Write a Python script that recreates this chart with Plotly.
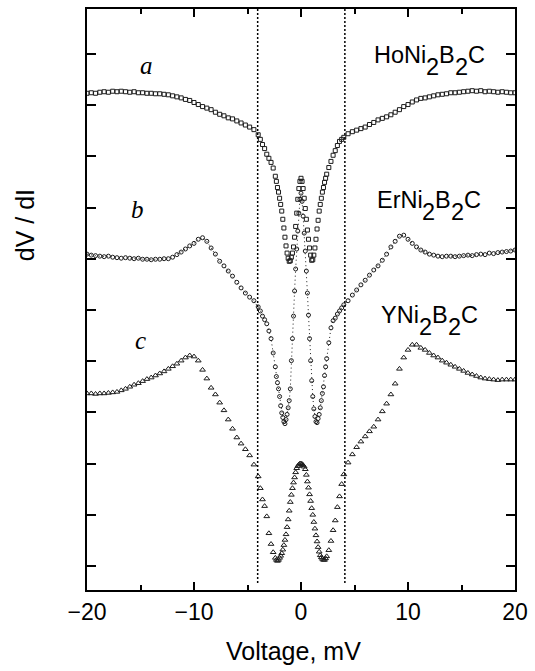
import numpy as np
import plotly.graph_objects as go


def grid(start, stop, step):
    return np.round(np.arange(start, stop + step / 2, step), 2)


# Bias voltage sampling (mV): coarse in the wings, fine through the gap region
volts = np.concatenate([grid(-20, -4, 0.4), grid(-3.8, -2.4, 0.2), grid(-2.3, 2.3, 0.1),
                        grid(2.4, 3.8, 0.2), grid(4, 20, 0.4)])

# dV/dI, arbitrary units (curves offset vertically)
dvdi_ho = [
    10.23, 10.24, 10.23, 10.25, 10.26, 10.25, 10.27, 10.26, 10.27, 10.26, 10.25, 10.26, 10.24, 10.24,
    10.23, 10.23, 10.22, 10.22, 10.21, 10.20, 10.18, 10.16, 10.14, 10.11, 10.09, 10.05, 10.01, 9.97,
    9.94, 9.91, 9.86, 9.82, 9.79, 9.75, 9.73, 9.69, 9.65, 9.61, 9.57, 9.52, 9.42,
    9.33, 9.23, 9.15, 9.04, 8.96, 8.88, 8.77, 8.61,
    8.51, 8.39, 8.30, 8.18, 8.06, 7.93, 7.77, 7.60, 7.42, 7.25, 7.11, 7.01, 6.95, 6.96, 7.03, 7.11,
    7.23, 7.42, 7.63, 7.89, 8.16, 8.37, 8.51, 8.57, 8.51, 8.37, 8.18, 7.98, 7.77, 7.56, 7.38, 7.21,
    7.07, 6.97, 6.98, 7.07, 7.21, 7.38, 7.58, 7.75, 7.93, 8.06, 8.18, 8.30, 8.39, 8.49, 8.57,
    8.65, 8.78, 8.90, 9.02, 9.11, 9.21, 9.29, 9.33,
    9.37, 9.44, 9.48, 9.51, 9.54, 9.57, 9.62, 9.66, 9.71, 9.74, 9.77, 9.81, 9.86, 9.91, 9.97, 10.01,
    10.06, 10.10, 10.13, 10.14, 10.16, 10.18, 10.20, 10.21, 10.22, 10.24, 10.24, 10.25, 10.26, 10.27,
    10.28, 10.27, 10.28, 10.26, 10.27, 10.26, 10.25, 10.26, 10.25, 10.24, 10.24,
]
dvdi_er = [
    7.09, 7.07, 7.06, 7.05, 7.04, 7.05, 7.03, 7.02, 7.01, 7.02, 7.01, 7.00, 7.01, 6.99, 6.99, 6.98,
    6.99, 6.99, 7.00, 7.00, 7.03, 7.08, 7.13, 7.19, 7.25, 7.30, 7.38, 7.41, 7.34, 7.21, 7.09, 6.95,
    6.86, 6.76, 6.66, 6.54, 6.43, 6.33, 6.25, 6.18, 6.06,
    5.98, 5.88, 5.81, 5.73, 5.59, 5.44, 5.16, 4.89,
    4.70, 4.58, 4.46, 4.31, 4.13, 3.99, 3.90, 3.82, 3.78, 3.86, 3.96, 4.09, 4.23, 4.46, 5.01, 5.44,
    5.88, 6.37, 6.80, 7.19, 7.54, 7.89, 8.16, 8.28, 8.12, 7.83, 7.50, 7.15, 6.76, 6.33, 5.90, 5.44,
    5.01, 4.62, 4.31, 4.07, 3.92, 3.82, 3.80, 3.88, 3.96, 4.09, 4.23, 4.37, 4.50, 4.72, 4.89,
    5.05, 5.36, 5.65, 5.79, 5.84, 5.92, 5.98, 6.04,
    6.10, 6.18, 6.29, 6.39, 6.49, 6.58, 6.68, 6.78, 6.86, 6.97, 7.09, 7.23, 7.34, 7.44, 7.46, 7.38,
    7.30, 7.23, 7.17, 7.13, 7.09, 7.07, 7.05, 7.04, 7.05, 7.05, 7.04, 7.05, 7.06, 7.07, 7.06, 7.08,
    7.09, 7.08, 7.11, 7.10, 7.12, 7.13, 7.14, 7.15, 7.17,
]
dvdi_y = [
    4.37, 4.37, 4.36, 4.37, 4.37, 4.38, 4.39, 4.40, 4.43, 4.46, 4.50, 4.54, 4.57, 4.61, 4.65, 4.68,
    4.72, 4.76, 4.80, 4.85, 4.90, 4.95, 5.01, 5.07, 5.11, 5.09, 5.01, 4.83, 4.66, 4.48, 4.35, 4.19,
    4.04, 3.86, 3.68, 3.51, 3.39, 3.28, 3.16, 2.98, 2.75,
    2.52, 2.30, 2.17, 1.97, 1.64, 1.43, 1.27, 1.16,
    1.12, 1.10, 1.12, 1.16, 1.20, 1.25, 1.32, 1.41, 1.51, 1.62, 1.76, 1.91, 2.08, 2.25, 2.39, 2.52,
    2.63, 2.73, 2.83, 2.91, 2.95, 2.98, 3.00, 3.00, 2.99, 2.97, 2.94, 2.89, 2.78, 2.65, 2.53, 2.40,
    2.27, 2.13, 2.00, 1.86, 1.73, 1.60, 1.48, 1.37, 1.28, 1.21, 1.17, 1.14, 1.12, 1.12, 1.15,
    1.19, 1.31, 1.49, 1.70, 1.89, 2.15, 2.36, 2.60,
    2.79, 3.02, 3.18, 3.32, 3.43, 3.53, 3.63, 3.72, 3.86, 4.02, 4.17, 4.35, 4.56, 4.85, 5.07, 5.22,
    5.32, 5.32, 5.26, 5.22, 5.16, 5.11, 5.07, 5.01, 4.97, 4.93, 4.89, 4.85, 4.81, 4.77, 4.74, 4.71,
    4.68, 4.66, 4.65, 4.64, 4.63, 4.64, 4.64, 4.64, 4.64,
]
assert len(dvdi_ho) == len(volts) == len(dvdi_er) == len(dvdi_y)

# Gap edges marked by dotted verticals (mV)
gap_marks = [-4.05, 4.1]

INK = "#1c1c1c"
SANS = "Liberation Sans, Arial, sans-serif"
SERIF = "Liberation Serif, Times New Roman, serif"

fig = go.Figure()
fig.add_trace(go.Scatter(x=volts, y=dvdi_ho, mode="markers", name="HoNi2B2C",
                         marker=dict(symbol="square-open", size=4, color=INK, line=dict(width=1, color=INK))))
fig.add_trace(go.Scatter(x=volts, y=dvdi_er, mode="lines+markers", name="ErNi2B2C",
                         line=dict(color=INK, width=1, dash="1px,3px"),
                         marker=dict(symbol="circle-open", size=4, color=INK, line=dict(width=1, color=INK))))
fig.add_trace(go.Scatter(x=volts, y=dvdi_y, mode="markers", name="YNi2B2C",
                         marker=dict(symbol="triangle-up-open", size=5, color=INK, line=dict(width=1, color=INK))))

for xv in gap_marks:
    fig.add_shape(type="line", xref="x", yref="y", x0=xv, x1=xv, y0=0.67, y1=11.875,
                  line=dict(color="black", width=1.5, dash="2px,2px"))

# Plot-area geometry in pixels (for placing text labels)
L, R, T, B = 87, 515, 7, 590


def px(xp):
    return (xp - L) / (R - L)


def py(yp):
    return (B - yp) / (B - T)


# Advance widths (em) of Liberation Sans glyphs used in the compound names
ADV = {"H": 0.722, "o": 0.556, "N": 0.722, "i": 0.222, "2": 0.556, "B": 0.667,
       "C": 0.722, "E": 0.667, "r": 0.333, "Y": 0.667}


def formula(parts, x_left, y_mid, size=23.5, drop=12):
    # parts: list of (text, is_subscript); subscripts are full-size digits set below the baseline
    x = x_left
    for txt, sub in parts:
        fig.add_annotation(x=px(x), y=py(y_mid), xref="paper", yref="paper", text=txt,
                           showarrow=False, xanchor="left", yanchor="middle",
                           yshift=-drop if sub else 0, borderpad=0, borderwidth=0,
                           font=dict(family=SANS, size=size, color="black"))
        x += sum(ADV[ch] for ch in txt) * size


formula([("HoNi", False), ("2", True), ("B", False), ("2", True), ("C", False)], 374, 53.5)
formula([("ErNi", False), ("2", True), ("B", False), ("2", True), ("C", False)], 376.5, 198.5)
formula([("YNi", False), ("2", True), ("B", False), ("2", True), ("C", False)], 381, 314)

for letter, xc, ym in (("a", 146, 64), ("b", 137.5, 208), ("c", 140.5, 339.5)):
    fig.add_annotation(x=px(xc), y=py(ym), xref="paper", yref="paper", text=f"<i>{letter}</i>",
                       showarrow=False, xanchor="center", yanchor="middle",
                       font=dict(family=SERIF, size=25, color="black"))

fig.add_annotation(x=px(25), y=py(224), xref="paper", yref="paper", text="dV / dI", textangle=-90,
                   showarrow=False, xanchor="center", yanchor="middle",
                   font=dict(family=SANS, size=25, color="black"))
fig.add_annotation(x=px(293), y=py(651), xref="paper", yref="paper", text="Voltage, mV",
                   showarrow=False, xanchor="center", yanchor="middle",
                   font=dict(family=SANS, size=25, color="black"))

fig.update_xaxes(range=[-20, 20], tickmode="linear", tick0=0, dtick=10,
                 ticks="inside", ticklen=8, tickwidth=1.5, tickcolor="black",
                 minor=dict(dtick=5, tick0=0, ticks="inside", ticklen=5, tickwidth=1.5, tickcolor="black"),
                 showline=True, linewidth=2, linecolor="black", mirror="ticks",
                 showgrid=False, zeroline=False,
                 tickfont=dict(family=SANS, size=23, color="black"))
fig.update_yaxes(range=[0.533, 11.875], tickmode="linear", tick0=1, dtick=1,
                 ticks="inside", ticklen=9, tickwidth=1.5, tickcolor="black",
                 showticklabels=False,
                 showline=True, linewidth=2, linecolor="black", mirror="ticks",
                 showgrid=False, zeroline=False)

fig.update_layout(width=535, height=671, margin=dict(l=L, r=535 - R, t=T, b=671 - B),
                  paper_bgcolor="white", plot_bgcolor="white", showlegend=False,
                  font=dict(family=SANS, color="black"))

fig.write_html("out.html")
